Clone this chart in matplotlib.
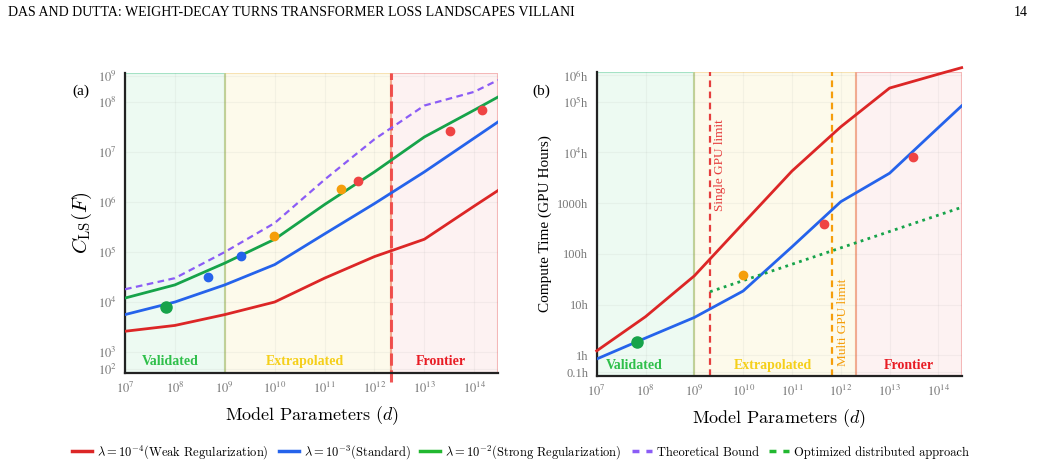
import numpy as np
import matplotlib
matplotlib.use("Agg")
import matplotlib.pyplot as plt
from matplotlib.lines import Line2D
from matplotlib.font_manager import FontProperties

plt.rcParams['font.family'] = ['Liberation Serif', 'DejaVu Serif']
plt.rcParams['mathtext.fontset'] = 'stix'

# x grid of model sizes (both panels)
d = [1e7, 1e8, 1e9, 1e10, 1e11, 1e12, 1e13, 1e14, 3e14]

# (a) C_LS(F)
cls_weak = [2.6e3, 3.4e3, 5.6e3, 1.0e4, 3.0e4, 8.1e4, 1.8e5, 8.3e5, 1.7e6]
cls_std = [5.6e3, 1.0e4, 2.2e4, 5.6e4, 2.3e5, 9.3e5, 4.0e6, 1.9e7, 4.0e7]
cls_strong = [1.2e4, 2.2e4, 6.0e4, 1.8e5, 8.9e5, 4.0e6, 2.0e7, 6.9e7, 1.26e8]
cls_bound = [1.8e4, 3.0e4, 1.0e5, 3.8e5, 2.8e6, 1.8e7, 8.5e7, 1.6e8, 2.75e8]

pts_a_green = ([6.6e7], [8.1e3])
pts_a_blue = ([4.6e8, 2.1e9], [3.2e4, 8.3e4])
pts_a_orange = ([9.8e9, 2.1e11], [2.1e5, 1.8e6])
pts_a_red = ([4.7e11, 3.2e13, 1.45e14], [2.6e6, 2.6e7, 6.9e7])

# (b) compute time in GPU hours
hrs_weak = [1.23, 5.8, 37, 400, 4300, 3.2e4, 1.86e5, 3.5e5, 4.7e5]
hrs_std = [0.85, 2.2, 5.6, 18.6, 138, 1070, 3900, 3.1e4, 8.3e4]
dist_d = [2.1e9, 3e14]
dist_hrs = [18, 830]

pts_b_green = ([6.6e7], [1.8])
pts_b_orange = ([9.8e9], [39])
pts_b_red = ([4.5e11, 3.0e13], [390, 8300])

# regions
validated_end = 1e9
frontier_start = 2.1e12
single_gpu = 2.1e9
multi_gpu = 6.6e11

ticks_a_pos = [10**2.66, 1e3, 1e4, 1e5, 1e6, 1e7, 1e8, 10**8.53]
ticks_a_lab = [r'$10^{2}$', r'$10^{3}$', r'$10^{4}$', r'$10^{5}$', r'$10^{6}$', r'$10^{7}$', r'$10^{8}$', r'$10^{9}$']
ticks_b_pos = [10**-0.33, 1, 10, 100, 1000, 1e4, 1e5, 10**5.52]
ticks_b_lab = ['0.1h', '1h', '10h', '100h', '1000h', r'$10^{4}$h', r'$10^{5}$h', r'$10^{6}$h']
xticks = [1e7, 1e8, 1e9, 1e10, 1e11, 1e12, 1e13, 1e14]
xtick_lab = [r'$10^{%d}$' % k for k in range(7, 15)]

RED = '#dc2626'
BLUE = '#2563eb'
GREEN = '#16a34a'
PURPLE = '#8b5cf6'
ORANGE = '#f59e0b'
DOTRED = '#ef4444'

fig = plt.figure(figsize=(10.41, 4.73), dpi=100)
axa = fig.add_axes([0.1201, 0.2114, 0.3583, 0.6342])
axb = fig.add_axes([0.5732, 0.2057, 0.3506, 0.6414])

cm_font = FontProperties(family='cmr10', size=13, math_fontfamily='cm')


def style_axes(ax, ylim, ypos, ylab):
    ax.set_xscale('log')
    ax.set_yscale('log')
    ax.set_xlim(1e7, 3e14)
    ax.set_ylim(*ylim)
    ax.axvspan(1e7, validated_end, facecolor=(0.13, 0.77, 0.37, 0.08),
               edgecolor=(0.13, 0.72, 0.45, 0.35), lw=1.5, zorder=0)
    ax.axvspan(validated_end, frontier_start, facecolor=(0.96, 0.82, 0.25, 0.10),
               edgecolor=(0.93, 0.72, 0.3, 0.35), lw=1.5, zorder=0)
    ax.axvspan(frontier_start, 3e14, facecolor=(0.94, 0.3, 0.3, 0.07),
               edgecolor=(0.9, 0.3, 0.3, 0.35), lw=1.5, zorder=0)
    ax.set_xticks(xticks)
    ax.set_xticklabels(xtick_lab, fontsize=9, color='#777777')
    ax.set_yticks(ypos)
    ax.set_yticklabels(ylab, fontsize=9, color='#777777')
    ax.minorticks_off()
    ax.tick_params(length=0, pad=6)
    ax.grid(True, color='#888888', alpha=0.08, lw=0.8)
    for s in ['top', 'right']:
        ax.spines[s].set_visible(False)
    for s in ['left', 'bottom']:
        ax.spines[s].set_linewidth(1.6)
        ax.spines[s].set_color('#222222')
    ax.set_xlabel(r'Model Parameters ($d$)', fontproperties=cm_font, labelpad=6)


def region_labels(ax, xs, y):
    ax.text(xs[0], y, 'Validated', transform=ax.get_xaxis_transform(), ha='center', va='center',
            fontsize=10, fontweight='bold', color='#2fbf4a')
    ax.text(xs[1], y, 'Extrapolated', transform=ax.get_xaxis_transform(), ha='center', va='center',
            fontsize=10, fontweight='bold', color='#f5cf1a')
    ax.text(xs[2], y, 'Frontier', transform=ax.get_xaxis_transform(), ha='center', va='center',
            fontsize=10, fontweight='bold', color='#e81c24')


# ---- panel (a)
style_axes(axa, (10**2.58, 10**8.58), ticks_a_pos, ticks_a_lab)
axa.plot(d, cls_weak, color=RED, lw=2, zorder=3)
axa.plot(d, cls_std, color=BLUE, lw=2, zorder=3)
axa.plot(d, cls_strong, color=GREEN, lw=2, zorder=3)
axa.plot(d, cls_bound, color=PURPLE, lw=1.6, ls=(0, (3, 2)), zorder=3)
axa.plot(*pts_a_green, 'o', color=GREEN, ms=8, zorder=4)
axa.plot(*pts_a_blue, 'o', color=BLUE, ms=6, zorder=4)
axa.plot(*pts_a_orange, 'o', color=ORANGE, ms=6, zorder=4)
axa.plot(*pts_a_red, 'o', color=DOTRED, ms=6, zorder=4)
axa.axvline(frontier_start, ymin=-0.03, ymax=1, color='#ef4444', lw=2.2, ls=(0, (4, 1.5)),
            alpha=0.9, clip_on=False, zorder=2)
region_labels(axa, [10**7.9, 10**10.61, 10**13.34], 0.038)
axa.set_ylabel(r'$C_{\mathrm{LS}}(F)$', fontsize=15, math_fontfamily='cm', labelpad=3)
fig.text(80.7 / 1041, 1 - 91.7 / 473, '(a)', fontsize=11, ha='center', va='center')

# ---- panel (b)
style_axes(axb, (10**-0.4, 10**5.58), ticks_b_pos, ticks_b_lab)
axb.plot(d, hrs_weak, color=RED, lw=2, zorder=3, clip_on=False)
axb.plot(d, hrs_std, color=BLUE, lw=2, zorder=3)
axb.plot(dist_d, dist_hrs, color=GREEN, lw=2, ls=(0, (1, 1.6)), zorder=3)
axb.plot(*pts_b_green, 'o', color=GREEN, ms=8, zorder=4)
axb.plot(*pts_b_orange, 'o', color=ORANGE, ms=6, zorder=4)
axb.plot(*pts_b_red, 'o', color=DOTRED, ms=6, zorder=4)
axb.axvline(single_gpu, color='#e53e3e', lw=1.6, ls=(0, (3, 2)), zorder=2)
axb.axvline(multi_gpu, color=ORANGE, lw=1.6, ls=(0, (3, 2)), zorder=2)
axb.text(10**9.52, 10**3.76, 'Single GPU limit', rotation=90, ha='center', va='center',
         fontsize=9.5, color='#e53e3e')
axb.text(10**12.04, 10**0.65, 'Multi GPU limit', rotation=90, ha='center', va='center',
         fontsize=9.5, color=ORANGE)
region_labels(axb, [10**7.78, 10**10.6, 10**13.4], 0.033)
axb.set_ylabel('Compute Time (GPU Hours)', fontsize=11, labelpad=4)
fig.text(541.7 / 1041, 1 - 91.7 / 473, '(b)', fontsize=11, ha='center', va='center')

# header
fig.text(8 / 1041, 1 - 12 / 473, 'DAS AND DUTTA: WEIGHT-DECAY TURNS TRANSFORMER LOSS LANDSCAPES VILLANI',
         fontsize=10, ha='left', va='center')
fig.text(1021 / 1041, 1 - 12 / 473, '14', fontsize=10, ha='center', va='center')

# legend
handles = [Line2D([], [], color=RED, lw=2.5), Line2D([], [], color=BLUE, lw=2.5),
           Line2D([], [], color='#22b830', lw=2.5), Line2D([], [], color=PURPLE, lw=2.5, ls=(0, (2, 2))),
           Line2D([], [], color='#22b830', lw=2.5, ls=(0, (2, 2)))]
labels = [r'$\lambda = 10^{-4}$(Weak Regularization)', r'$\lambda = 10^{-3}$(Standard)',
          r'$\lambda = 10^{-2}$(Strong Regularization)', 'Theoretical Bound', 'Optimized distributed approach']
fig.legend(handles, labels, loc='center', bbox_to_anchor=(0.5, 1 - 452 / 473), ncol=5, frameon=False,
           prop=FontProperties(family='cmr10', size=9, math_fontfamily='cm'),
           handlelength=1.6, handletextpad=0.4, columnspacing=0.8)

fig.savefig('out.png', dpi=100)
